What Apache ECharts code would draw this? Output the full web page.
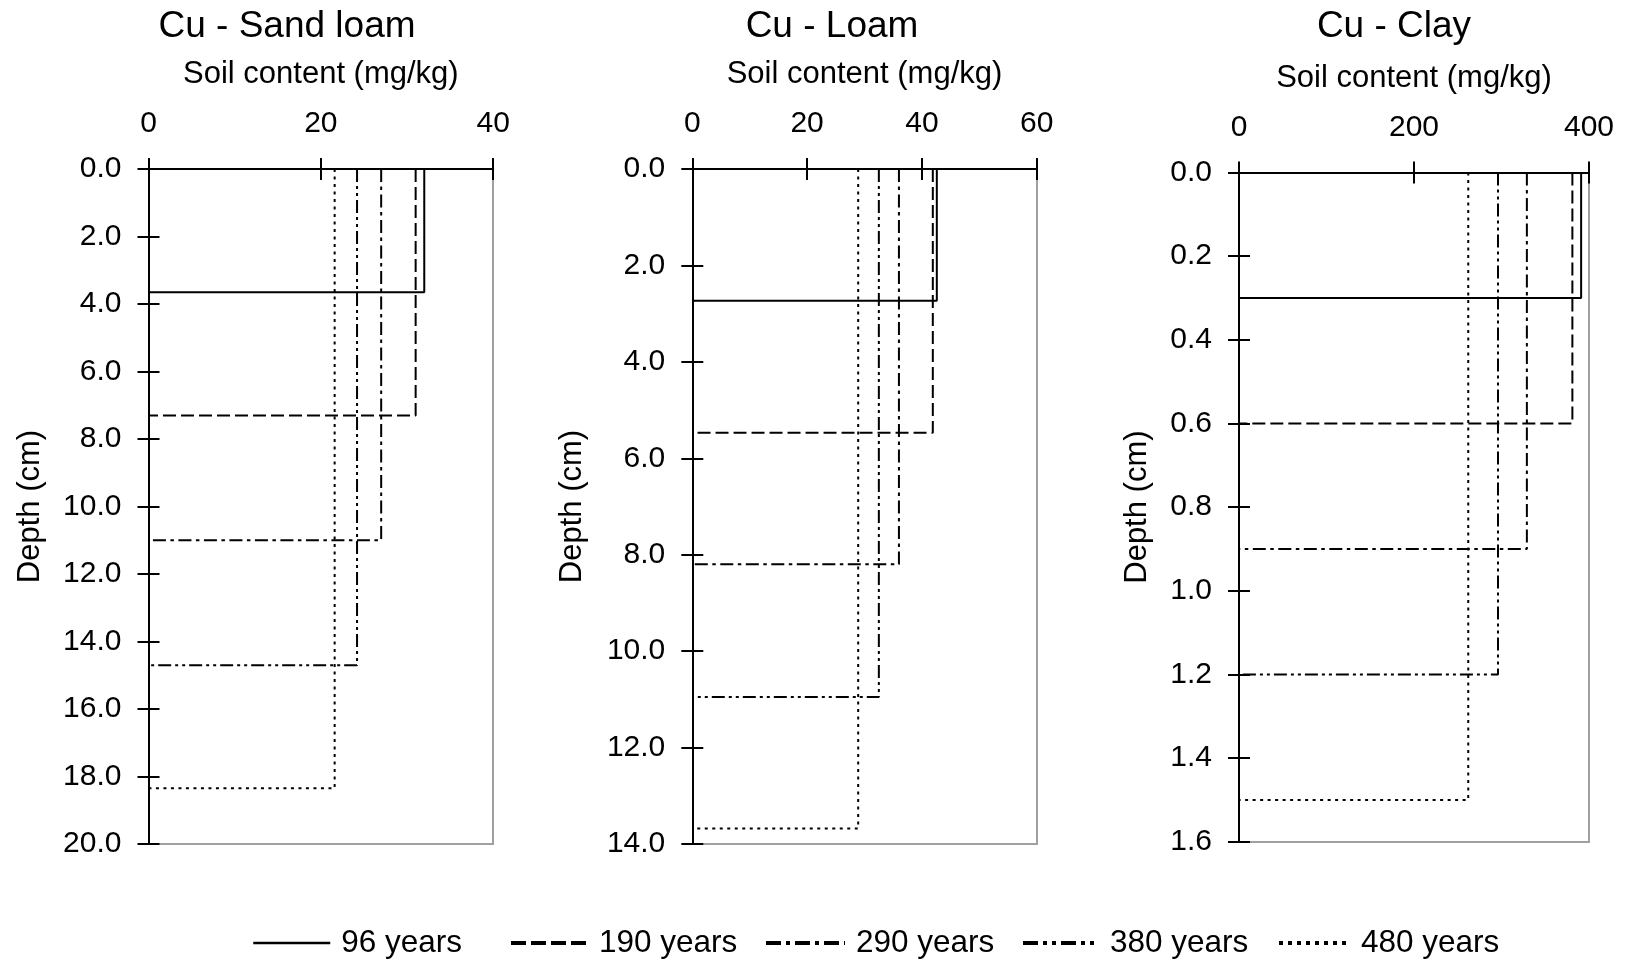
<!DOCTYPE html>
<html>
<head>
<meta charset="utf-8">
<script src="https://cdn.jsdelivr.net/npm/echarts@6/dist/echarts.min.js"></script>
<style>
html,body{margin:0;padding:0;background:#fff;}
#c{width:1626px;height:962px;}
</style>
</head>
<body>
<div id="c"></div>
<script>
// ---- data ----
const years = ['96 years', '190 years', '290 years', '380 years', '480 years'];

const sandLoamContent = [32.0, 31.0, 27.0, 24.2, 21.6];
const sandLoamDepth   = [3.65, 7.3, 11.0, 14.7, 18.35];
const sandLoamXTicks  = [0, 20, 40];
const sandLoamYTicks  = [0, 2, 4, 6, 8, 10, 12, 14, 16, 18, 20];

const loamContent = [42.6, 41.9, 36.0, 32.5, 28.9];
const loamDepth   = [2.73, 5.47, 8.2, 10.95, 13.68];
const loamXTicks  = [0, 20, 40, 60];
const loamYTicks  = [0, 2, 4, 6, 8, 10, 12, 14];

const clayContent = [391, 381, 329, 296, 262];
const clayDepth   = [0.3, 0.6, 0.9, 1.2, 1.5];
const clayXTicks  = [0, 200, 400];
const clayYTicks  = [0, 0.2, 0.4, 0.6, 0.8, 1.0, 1.2, 1.4, 1.6];

const panelTitles = ['Cu - Sand loam', 'Cu - Loam', 'Cu - Clay'];
const xAxisName = 'Soil content (mg/kg)';
const yAxisName = 'Depth (cm)';

// ---- styles ----
const FONT = '"Liberation Sans", Arial, Helvetica, sans-serif';
const plotDash   = ['solid', [13, 5], [13, 4.5, 3.5, 4.5], [13, 4, 3, 4, 3, 4], [3, 4.5]];
const plotWidth  = [2, 2, 2, 2, 2];
const legendDash = ['solid', [15, 5], [15, 5, 4, 5], [15, 5, 4, 5, 4, 5], [4, 5]];
const legendLeft = [252, 509, 764, 1021, 1277];
const legendIconW = [77, 77, 79, 76, 71];

const panels = [
  { content: sandLoamContent, depth: sandLoamDepth, xt: sandLoamXTicks, yt: sandLoamYTicks,
    grid: { left: 148.5, top: 169, width: 344.7, height: 675 }, titleX: 287, yNameGap: 103 },
  { content: loamContent, depth: loamDepth, xt: loamXTicks, yt: loamYTicks,
    grid: { left: 692.3, top: 169, width: 344.4, height: 675 }, titleX: 832, yNameGap: 104 },
  { content: clayContent, depth: clayDepth, xt: clayXTicks, yt: clayYTicks,
    grid: { left: 1239, top: 172.5, width: 350, height: 669.2 }, titleX: 1394, yNameGap: 86 }
];

const grids = [], xAxes = [], yAxes = [], series = [], titles = [];
const black = '#000';
const gray = '#a0a0a0';

panels.forEach((p, i) => {
  grids.push(Object.assign({ containLabel: false, outerBoundsMode: 'none' }, p.grid));
  const xMin = p.xt[0], xMax = p.xt[p.xt.length - 1], xInt = p.xt[1] - p.xt[0];
  const yMin = p.yt[0], yMax = p.yt[p.yt.length - 1], yInt = p.yt[1] - p.yt[0];
  const xBase = { gridIndex: i, type: 'value', min: xMin, max: xMax, interval: xInt, splitLine: { show: false } };
  const yBase = { gridIndex: i, type: 'value', min: yMin, max: yMax, interval: yInt, inverse: true, splitLine: { show: false } };

  xAxes.push(Object.assign({}, xBase, {
    position: 'top',
    axisLine: { show: true, onZero: false, lineStyle: { color: black, width: 2 } },
    axisTick: { show: true, inside: true, length: 11, lineStyle: { color: black, width: 2 } },
    axisLabel: { show: true, margin: 30, fontSize: 30, color: black, fontFamily: FONT },
    name: xAxisName, nameLocation: 'middle', nameGap: 79,
    nameTextStyle: { fontSize: 31, color: black, fontFamily: FONT }
  }));
  xAxes.push(Object.assign({}, xBase, {
    position: 'top',
    axisLine: { show: false, onZero: false },
    axisTick: { show: true, inside: false, length: 11, lineStyle: { color: black, width: 2 } },
    axisLabel: { show: false }
  }));
  xAxes.push(Object.assign({}, xBase, {
    position: 'bottom',
    axisLine: { show: true, onZero: false, lineStyle: { color: gray, width: 2 } },
    axisTick: { show: false }, axisLabel: { show: false }
  }));

  yAxes.push(Object.assign({}, yBase, {
    position: 'left',
    axisLine: { show: true, onZero: false, lineStyle: { color: black, width: 2 } },
    axisTick: { show: true, inside: true, length: 11, lineStyle: { color: black, width: 2 } },
    axisLabel: { show: true, margin: 27, fontSize: 30, color: black, fontFamily: FONT,
                 formatter: v => Number(v).toFixed(1) },
    name: yAxisName, nameLocation: 'middle', nameGap: p.yNameGap,
    nameTextStyle: { fontSize: 31, color: black, fontFamily: FONT }
  }));
  yAxes.push(Object.assign({}, yBase, {
    position: 'left',
    axisLine: { show: false, onZero: false },
    axisTick: { show: true, inside: false, length: 11, lineStyle: { color: black, width: 2 } },
    axisLabel: { show: false }
  }));
  yAxes.push(Object.assign({}, yBase, {
    position: 'right',
    axisLine: { show: true, onZero: false, lineStyle: { color: gray, width: 2 } },
    axisTick: { show: false }, axisLabel: { show: false }
  }));

  years.forEach((name, k) => {
    const c = p.content[k], d = p.depth[k];
    series.push({
      type: 'line', name: name,
      xAxisIndex: 3 * i, yAxisIndex: 3 * i,
      data: [[c, 0], [c, d], [0, d]],
      symbol: 'none', silent: true, clip: false,
      lineStyle: { color: black, width: plotWidth[k], type: plotDash[k] },
      itemStyle: { color: black },
      z: 3
    });
  });

  titles.push({
    text: panelTitles[i], left: p.titleX, top: 8, textAlign: 'center', padding: 0,
    textStyle: { fontSize: 37, fontWeight: 'normal', color: black, fontFamily: FONT }
  });
});

const legends = years.map((n, k) => ({
  left: legendLeft[k], top: 927, padding: 0,
  itemWidth: legendIconW[k], itemHeight: 14, itemGap: 0,
  selectedMode: false,
  textStyle: { fontSize: 31.5, color: black, fontFamily: FONT, padding: [0, 0, 0, 6] },
  data: [{
    name: n,
    lineStyle: { color: black, width: k === 0 ? 2.5 : 4, type: legendDash[k] },
    itemStyle: { opacity: 0 }
  }]
}));

const option = {
  animation: false,
  backgroundColor: '#fff',
  textStyle: { fontFamily: FONT },
  title: titles,
  grid: grids,
  xAxis: xAxes,
  yAxis: yAxes,
  legend: legends,
  series: series
};

const chart = echarts.init(document.getElementById('c'), null, { renderer: 'canvas' });
chart.setOption(option);
</script>
</body>
</html>
